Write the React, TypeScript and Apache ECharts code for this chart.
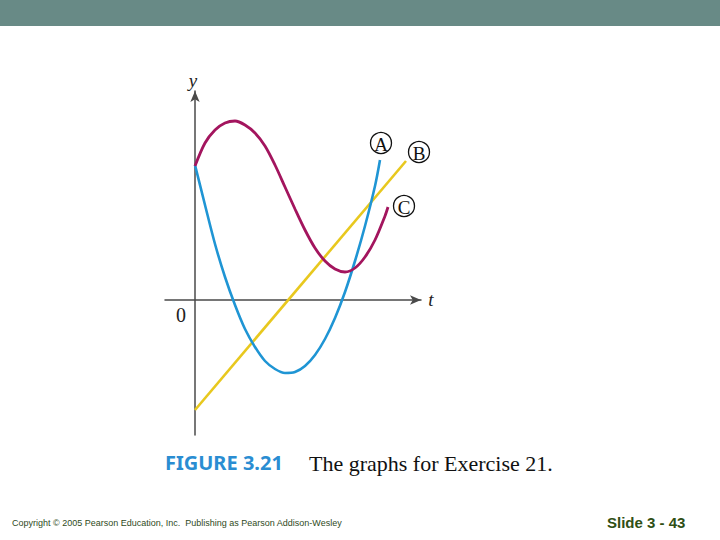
import React, { useEffect, useRef } from "react";
import * as echarts from "echarts";

// Curve A (blue): [t, y]
const curveA: [number, number][] = [
  [0, 13.5], [1, 9.5], [2, 5.6], [3, 2.3], [4, -0.5], [5, -2.9], [6, -4.7],
  [7, -6.1], [8, -6.9], [9, -7.3], [10, -7.2], [11, -6.6], [12, -5.5],
  [13, -3.9], [14, -1.8], [15, 0.8], [16, 3.9], [17, 7.4], [18, 11.4], [18.5, 14.0],
];
// Curve B (yellow): straight line
const curveB: [number, number][] = [
  [0, -11], [21.1, 13.9],
];
// Curve C (magenta)
const curveC: [number, number][] = [
  [0, 13.4], [1, 15.7], [2, 17.0], [3, 17.7], [4, 17.9], [5, 17.5], [6, 16.7],
  [7, 15.4], [8, 13.5], [9, 11.3], [10, 9.1], [11, 7.0], [12, 5.2], [13, 3.9],
  [14, 3.1], [15, 2.8], [16, 3.2], [17, 4.3], [18, 6.0], [19, 8.4], [19.3, 9.3],
];
const seriesNames = ["A", "B", "C"];
const caption = "FIGURE 3.21";
const captionText = "The graphs for Exercise 21.";
const copyright = "Copyright © 2005 Pearson Education, Inc.  Publishing as Pearson Addison-Wesley";
const slideLabel = "Slide 3 - 43";

const SERIF = "'Liberation Serif', 'DejaVu Serif', serif";
const SANS = "'Liberation Sans', Arial, sans-serif";

export default function App() {
  const ref = useRef<HTMLDivElement>(null);
  useEffect(() => {
    if (!ref.current) return;
    const chart = echarts.init(ref.current, undefined, { renderer: "svg" });
    const axisLine = {
      show: true,
      onZero: true,
      symbol: ["none", "arrow"],
      symbolSize: [7, 11],
      lineStyle: { color: "#4a4a4a", width: 1.5 },
    };
    const labelCircle = (name: string, cx: number, cy: number) => [
      {
        type: "circle",
        shape: { cx, cy, r: 10.5 },
        style: { fill: "#fff", stroke: "#111", lineWidth: 1.3 },
        z: 10,
      },
      {
        type: "text",
        x: cx,
        y: cy + 1,
        style: {
          text: name,
          font: `19px ${SERIF}`,
          fill: "#111",
          textAlign: "center",
          textVerticalAlign: "middle",
        },
        z: 11,
      },
    ];
    chart.setOption({
      animation: false,
      backgroundColor: "#ffffff",
      grid: { left: 165, top: 91, width: 256, height: 344 },
      xAxis: {
        type: "value",
        min: -3,
        max: 22.6,
        axisLine,
        axisTick: { show: false },
        axisLabel: { show: false },
        splitLine: { show: false },
      },
      yAxis: {
        type: "value",
        min: -13.5,
        max: 20.9,
        axisLine,
        axisTick: { show: false },
        axisLabel: { show: false },
        splitLine: { show: false },
      },
      series: [
        {
          name: seriesNames[0],
          type: "line",
          data: curveA,
          smooth: 0.3,
          showSymbol: false,
          lineStyle: { color: "#1f95d4", width: 2.6 },
          z: 3,
        },
        {
          name: seriesNames[1],
          type: "line",
          data: curveB,
          showSymbol: false,
          lineStyle: { color: "#e8c81e", width: 2.6 },
          z: 2,
        },
        {
          name: seriesNames[2],
          type: "line",
          data: curveC,
          smooth: 0.3,
          showSymbol: false,
          lineStyle: { color: "#a3155e", width: 2.8 },
          z: 4,
        },
      ],
      graphic: [
        {
          type: "rect",
          shape: { x: 0, y: 0, width: 720, height: 26 },
          style: { fill: "#688a86" },
        },
        {
          type: "text",
          x: 193,
          y: 80,
          style: { text: "y", font: `italic 19px ${SERIF}`, fill: "#222", textAlign: "center", textVerticalAlign: "middle" },
        },
        {
          type: "text",
          x: 431,
          y: 299,
          style: { text: "t", font: `italic 19px ${SERIF}`, fill: "#222", textAlign: "center", textVerticalAlign: "middle" },
        },
        {
          type: "text",
          x: 181,
          y: 315,
          style: { text: "0", font: `20px ${SERIF}`, fill: "#222", textAlign: "center", textVerticalAlign: "middle" },
        },
        ...labelCircle(seriesNames[0], 381, 143),
        ...labelCircle(seriesNames[1], 419, 152),
        ...labelCircle(seriesNames[2], 404, 206),
        {
          type: "text",
          x: 165,
          y: 462,
          style: { text: caption, font: `bold 20px 'Noto Sans', ${SANS}`, fill: "#2a8dd2", textAlign: "left", textVerticalAlign: "middle" },
        },
        {
          type: "text",
          x: 309,
          y: 463,
          style: { text: captionText, font: `22px ${SERIF}`, fill: "#111", textAlign: "left", textVerticalAlign: "middle" },
        },
        {
          type: "text",
          x: 12,
          y: 523,
          style: { text: copyright, font: `9px ${SANS}`, fill: "#2f4a1c", textAlign: "left", textVerticalAlign: "middle" },
        },
        {
          type: "text",
          x: 607,
          y: 522,
          style: { text: slideLabel, font: `bold 15px ${SANS}`, fill: "#2f4f14", textAlign: "left", textVerticalAlign: "middle" },
        },
      ],
    });
    return () => chart.dispose();
  }, []);
  return (
    <div
      ref={ref}
      style={{ position: "absolute", left: 0, top: 0, width: 720, height: 540 }}
    />
  );
}
